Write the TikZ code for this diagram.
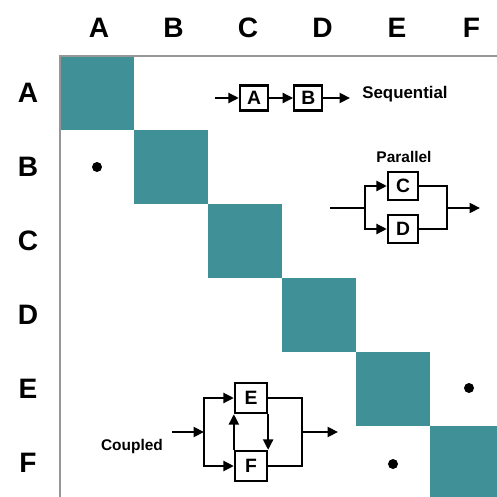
\documentclass[tikz,border=0pt]{standalone}
\usepackage{fontspec}
\setmainfont{Liberation Sans}
\usepackage{tikz}
\usetikzlibrary{shapes, arrows.meta, positioning, calc}

\definecolor{cellteal}{RGB}{64,144,152}
\definecolor{gridgray}{RGB}{150,150,150}

\begin{document}
\begin{tikzpicture}[x=0.02cm, y=-0.02cm, >={Triangle[length=0.21cm,width=0.2cm]},
		box/.style={draw, line width=1.3pt, fill=white, minimum width=0.6cm, minimum height=0.56cm, inner sep=0pt, font=\fontsize{11}{13}\selectfont\bfseries},
		hdr/.style={font=\fontsize{16}{18}\selectfont\bfseries},
		tag/.style={font=\fontsize{8.8}{10}\selectfont\bfseries},
		wire/.style={line width=1.3pt}]
		\useasboundingbox (0,0) rectangle (497,497);
		\foreach \c [count=\i from 0] in {A,B,C,D,E,F} {
			\node[hdr] (col\c) at (99+74.5*\i, 28) {\c};
			\node[hdr] (row\c) at (28, 93+74*\i) {\c};
			\fill[cellteal] (60+74*\i, 56+74*\i) rectangle ++(74,74);
		}
		\draw[gridgray, line width=1.2pt] (497,56) -- (60,56) -- (60,497);
		\fill (97,167) circle (0.1cm);
		\fill (469,388) circle (0.1cm);
		\fill (393,464) circle (0.1cm);
		% sequential
		\node[box, minimum width=0.56cm, minimum height=0.5cm] (seqA) at (254,98) {A};
		\node[box, minimum width=0.56cm, minimum height=0.5cm, right=0.48cm of seqA] (seqB) {B};
		\coordinate (seqin) at (215,98);
		\coordinate (seqout) at (350,98);
		\node[tag, font=\fontsize{9.6}{11}\selectfont\bfseries] (seqtxt) at (405,94) {Sequential};
		\foreach \from/\to in {seqin/seqA, seqA/seqB, seqB/seqout}
			\draw[->, wire] (\from) -- (\to);
		% parallel
		\node[box] (parC) at (403,186) {C};
		\node[box] (parD) at (403,229) {D};
		\node[tag] (partxt) at (404,157) {Parallel};
		\coordinate (parin) at (330,208);
		\coordinate (parsplit) at (365,208);
		\coordinate (parjoin) at (447,208);
		\coordinate (parout) at (480,208);
		\draw[wire] (parin) -- (parsplit);
		\draw[->, wire] (parsplit) |- (parC);
		\draw[->, wire] (parsplit) |- (parD);
		\draw[wire] (parC) -| (parjoin);
		\draw[wire] (parD) -| (parjoin);
		\draw[->, wire] (parjoin) -- (parout);
		% coupled
		\node[box, minimum width=0.64cm, minimum height=0.6cm] (cplE) at (251,398) {E};
		\node[box, minimum width=0.64cm, minimum height=0.6cm] (cplF) at (251,466) {F};
		\node[tag] (cpltxt) at (132,446) {Coupled};
		\coordinate (cplin) at (172,432);
		\coordinate (cplsplit) at (204,432);
		\coordinate (cpljoin) at (302,432);
		\coordinate (cplout) at (338,432);
		\draw[->, wire] (cplin) -- (cplsplit);
		\draw[->, wire] (cplsplit) |- (cplE);
		\draw[->, wire] (cplsplit) |- (cplF);
		\draw[wire] (cplE) -| (cpljoin);
		\draw[wire] (cplF) -| (cpljoin);
		\draw[->, wire] (cpljoin) -- (cplout);
		\draw[->, wire] (cplF.north west) -- (cplE.south west);
		\draw[->, wire] (cplE.south east) -- (cplF.north east);
	\end{tikzpicture}
\end{document}
